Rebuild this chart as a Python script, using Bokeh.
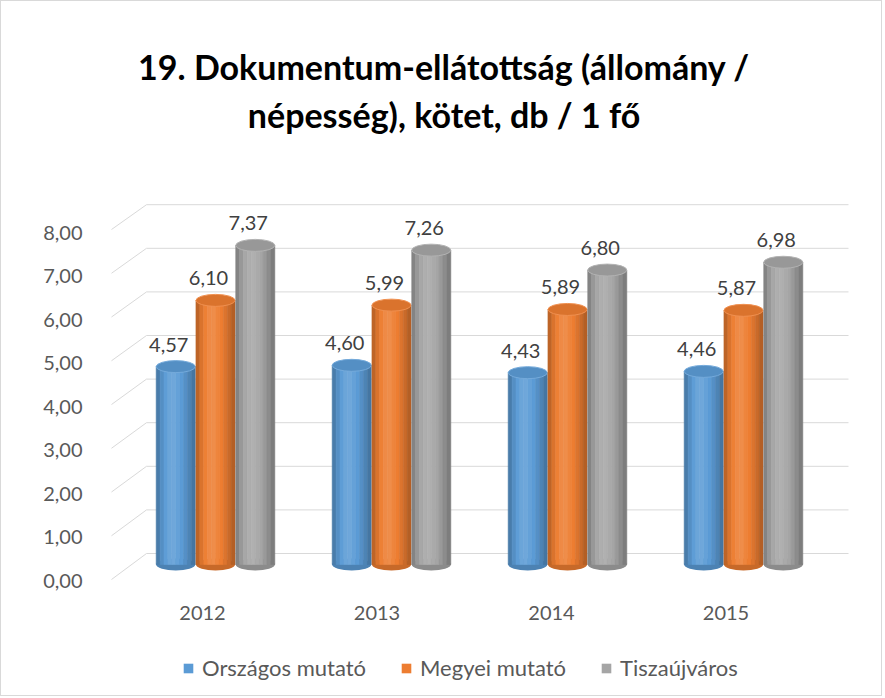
from bokeh.plotting import figure
from bokeh.layouts import column
from bokeh.models import Range1d, LinearAxis, FixedTicker, Legend, LegendItem
from bokeh.core.properties import value
from bokeh.embed import file_html
from bokeh.resources import INLINE

# ---------------- data ----------------
years = ["2012", "2013", "2014", "2015"]
series_names = ["Országos mutató", "Megyei mutató", "Tiszaújváros"]
orszagos = [4.57, 4.60, 4.43, 4.46]
megyei = [6.10, 5.99, 5.89, 5.87]
tiszaujvaros = [7.37, 7.26, 6.80, 6.98]
series_values = [orszagos, megyei, tiszaujvaros]
series_colors = ["#5b9bd5", "#ed7d31", "#a5a5a5"]
y_ticks = [0, 1, 2, 3, 4, 5, 6, 7, 8]
title_lines = ["19. Dokumentum-ellátottság (állomány /", "népesség), kötet, db / 1 fő"]

# ---------------- layout (screen pixels) ----------------
W, H1, H2 = 880, 628, 66
FL, FR, FT, FB = 100, 850, 0, 590      # frame edges
G0, GS = 214, 176                       # group centre / spacing (bars)
BASE, BK = 563, 43.3                    # bar base and px per unit
L0, LS = 201, 174.5                     # category label centre / spacing
AX0, AXK = 579, 43.5                    # value axis labels


def px_x(px):
    return (px - G0) / GS


def px_y(py):
    return (BASE - py) / BK


def front_v(g):
    return px_y(578 - 43.75 * g)


def back_v(g):
    return px_y(552 - 43.6 * g)


p = figure(width=W, height=H1, output_backend="svg", toolbar_location=None, title=None,
           x_range=Range1d(px_x(FL), px_x(FR)), y_range=Range1d(px_y(FB), px_y(FT)),
           x_axis_location=None, y_axis_location=None,
           min_border_left=FL, min_border_right=W - FR,
           min_border_top=FT, min_border_bottom=H1 - FB)
p.outline_line_color = None
p.grid.visible = False
p.background_fill_color = "white"
p.border_fill_color = "white"

p.extra_y_ranges = {"front": Range1d((AX0 - FB) / AXK, (AX0 - FT) / AXK)}
p.extra_x_ranges = {"lab": Range1d((FL - L0) / LS, (FR - L0) / LS)}

yaxis = LinearAxis(y_range_name="front", ticker=FixedTicker(ticks=y_ticks),
                   major_label_overrides={t: f"{t:.2f}".replace(".", ",") for t in y_ticks})
xaxis = LinearAxis(x_range_name="lab", ticker=FixedTicker(ticks=list(range(len(years)))),
                   major_label_overrides={i: y for i, y in enumerate(years)})
for ax, standoff in ((yaxis, 13), (xaxis, 8)):
    ax.axis_line_color = None
    ax.major_tick_line_color = None
    ax.minor_tick_line_color = None
    ax.major_label_text_font = "Lato"
    ax.major_label_text_font_size = "20px"
    ax.major_label_text_color = "#595959"
    ax.major_label_standoff = standoff
p.add_layout(yaxis, "left")
p.add_layout(xaxis, "below")

# ---------------- 3D-like gridlines ----------------
gx0, gx1, gx2 = px_x(110), px_x(145), px_x(847)
p.segment(x0=[gx0] * len(y_ticks), y0=[front_v(g) for g in y_ticks],
          x1=[gx1] * len(y_ticks), y1=[back_v(g) for g in y_ticks],
          line_color="#d9d9d9", line_width=1)
p.segment(x0=[gx1] * len(y_ticks), y0=[back_v(g) for g in y_ticks],
          x1=[gx2] * len(y_ticks), y1=[back_v(g) for g in y_ticks],
          line_color="#d9d9d9", line_width=1)


def shade(hexcol, f):
    h = hexcol.lstrip("#")
    rgb = [int(h[i:i + 2], 16) for i in (0, 2, 4)]
    out = []
    for c in rgb:
        if f >= 1:
            c = c + (255 - c) * (f - 1)
        else:
            c = c * f
        out.append(max(0, min(255, int(round(c)))))
    return "#%02x%02x%02x" % tuple(out)


# ---------------- cylinders ----------------
offsets = [-0.226, 0.0, 0.226]
BW = 0.222
profile = [0.80, 0.92, 1.02, 1.10, 1.12, 1.06, 1.0, 0.93, 0.85, 0.76]
NS = len(profile)
ell_h = 12 / BK
for si, (vals, col) in enumerate(zip(series_values, series_colors)):
    centers = [i + offsets[si] for i in range(len(years))]
    # rounded bottom
    p.ellipse(x=centers, y=[0] * len(vals), width=BW, height=ell_h,
              fill_color=shade(col, 0.84), line_color=None)
    for k, f in enumerate(profile):
        xs = [c - BW / 2 + (k + 0.5) * BW / NS for c in centers]
        c2 = shade(col, f)
        p.vbar(x=xs, top=vals, bottom=0, width=BW / NS, fill_color=c2,
               line_color=c2, line_width=0.6)
    # top cap
    p.ellipse(x=centers, y=vals, width=BW, height=ell_h,
              fill_color=shade(col, 0.92), line_color=shade(col, 1.15), line_width=1)
    # data labels
    p.text(x=centers, y=vals, text=[f"{v:.2f}".replace(".", ",") for v in vals],
           text_align="center", text_baseline="middle", x_offset=-7, y_offset=-22,
           text_font=value("Lato"), text_font_size="20px", text_color="#404040")

# ---------------- title ----------------
tx = px_x(442.5)
p.text(x=[tx, tx], y=[px_y(65), px_y(113)], text=title_lines,
       text_align="center", text_baseline="alphabetic",
       text_font=value("Lato"), text_font_style="bold", text_font_size="34px",
       text_color="#000000")

# ---------------- legend (separate strip below the chart) ----------------
q = figure(width=W, height=H2, output_backend="svg", toolbar_location=None, title=None,
           x_range=Range1d(0, 1), y_range=Range1d(0, 1),
           x_axis_location=None, y_axis_location=None,
           min_border_left=FL, min_border_right=W - FR, min_border_top=0, min_border_bottom=0)
q.outline_line_color = None
q.grid.visible = False
q.background_fill_color = "white"
q.border_fill_color = "white"
items = []
for name, col in zip(series_names, series_colors):
    r = q.vbar(x=[0.5], top=[0], bottom=[0], width=0.0, fill_color=col, line_color=None)
    items.append(LegendItem(label=name, renderers=[r]))
legend = Legend(items=items, orientation="horizontal", location=(181 - FL, 14),
                border_line_color=None, background_fill_alpha=0,
                label_text_font="Lato", label_text_font_size="22px",
                label_text_color="#595959", glyph_width=12, glyph_height=12,
                label_standoff=8, spacing=34, padding=0, margin=0)
q.add_layout(legend, "center")

layout = column(p, q, spacing=0, styles={"border": "1px solid #d9d9d9"})
open("out.html", "w").write(file_html(layout, INLINE))
